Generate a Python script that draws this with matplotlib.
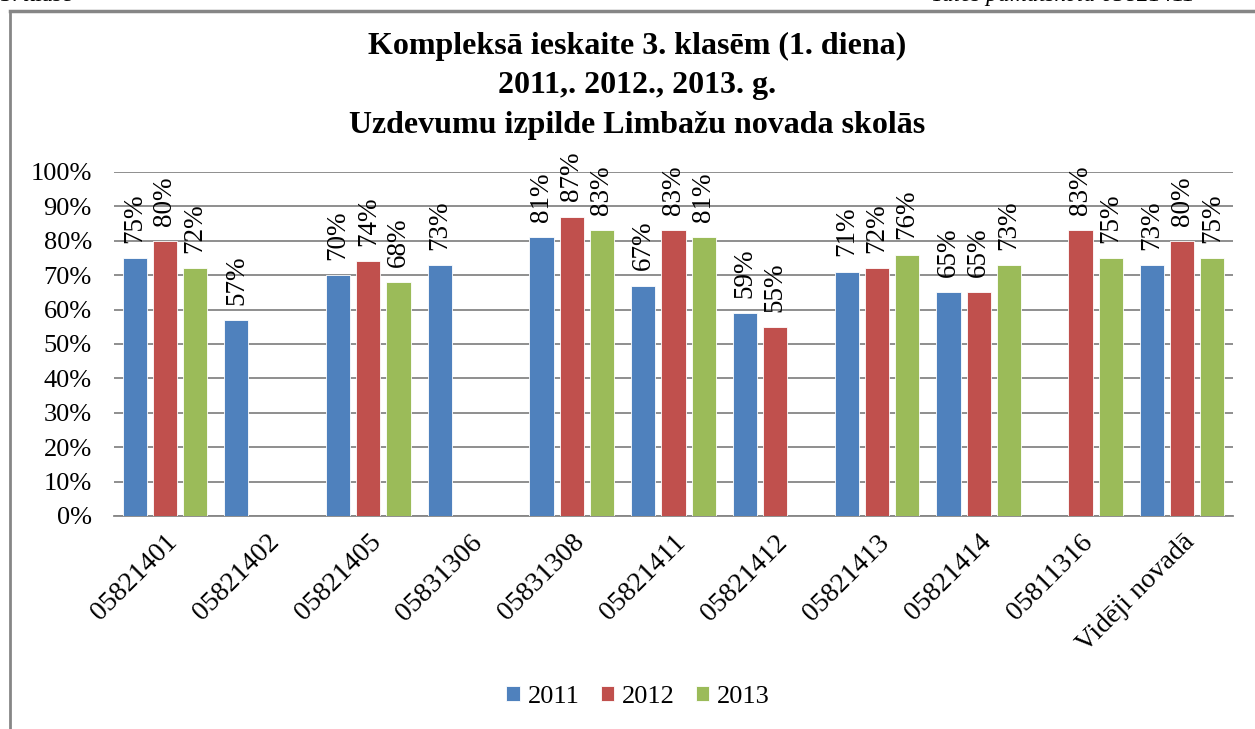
import numpy as np
import matplotlib
matplotlib.use("Agg")
import matplotlib.pyplot as plt
from matplotlib.lines import Line2D

schools = ["05821401", "05821402", "05821405", "05831306", "05831308", "05821411",
           "05821412", "05821413", "05821414", "05811316", "Vidēji novadā"]
years = ["2011", "2012", "2013"]
v2011 = [75, 57, 70, 73, 81, 67, 59, 71, 65, np.nan, 73]
v2012 = [80, np.nan, 74, np.nan, 87, 83, 55, 72, 65, 83, 80]
v2013 = [72, np.nan, 68, np.nan, 83, 81, np.nan, 76, 73, 75, 75]
colors = ["#4F81BD", "#C0504D", "#9BBB59"]

plt.rcParams["font.family"] = ["Liberation Serif", "DejaVu Serif"]

fig = plt.figure(figsize=(12.55, 7.29), dpi=100)
ax = fig.add_axes([114 / 1255, 1 - 516 / 729, (1233 - 114) / 1255, 344 / 729])

x = np.arange(len(schools))
w = 0.238
step = 0.297
for i, (vals, c) in enumerate(zip([v2011, v2012, v2013], colors)):
    vals = np.array(vals, dtype=float) / 100
    pos = x + (i - 1) * step
    ax.bar(pos, np.nan_to_num(vals), w, color=c, edgecolor="white", linewidth=0.6,
           label=years[i], zorder=3)
    for p, v in zip(pos, vals):
        if np.isnan(v):
            continue
        ax.annotate(f"{v * 100:.0f}%", (p, v), xytext=(0, 11), textcoords="offset points",
                    rotation=90, ha="center", va="bottom", fontsize=19.5, zorder=4)

ax.set_xlim(-0.5, len(schools) - 0.5)
ax.set_ylim(0, 1)
ax.set_yticks(np.arange(0, 1.01, 0.1))
ax.set_yticklabels([f"{t}%" for t in range(0, 101, 10)], fontsize=19)
ax.yaxis.grid(True, color="#868686", linewidth=1.3, zorder=0)
ax.tick_params(axis="y", length=0, pad=16)
ax.set_xticks(x)
ax.set_xticklabels(schools, rotation=45, ha="right", rotation_mode="anchor", fontsize=20)
ax.tick_params(axis="x", length=0, pad=10)
for s in ["left", "right", "top"]:
    ax.spines[s].set_visible(False)
ax.spines["bottom"].set_color("#868686")
ax.spines["bottom"].set_linewidth(1.3)

fig.text(0.508, 1 - 46 / 729, "Kompleksā ieskaite 3. klasēm (1. diena)", ha="center",
         va="center", fontsize=23, fontweight="bold")
fig.text(0.508, 1 - 86 / 729, "2011,. 2012., 2013. g.", ha="center",
         va="center", fontsize=23, fontweight="bold")
fig.text(0.508, 1 - 126 / 729, "Uzdevumu izpilde Limbažu novada skolās", ha="center",
         va="center", fontsize=23, fontweight="bold")

ax.legend(loc="center", bbox_to_anchor=((638 - 114) / 1119, -0.525), ncol=3, frameon=False,
          fontsize=19, handlelength=0.5, handleheight=0.5, handletextpad=0.3,
          columnspacing=0.8)

# page header, cut off at top
fig.text(0.0, 1.006, "3. klase", ha="left", va="center", fontsize=17)
fig.text(0.952, 1.006, "Tales pamatskola 05821411", ha="right", va="center", fontsize=17,
         style="italic")

# chart frame
fig.add_artist(Line2D([10 / 1255, 1.0], [1 - 11 / 729, 1 - 11 / 729],
                      color="#868686", linewidth=2.5))
fig.add_artist(Line2D([10 / 1255, 10 / 1255], [0.0, 1 - 11 / 729],
                      color="#868686", linewidth=2))

fig.savefig("out.png", dpi=100)
